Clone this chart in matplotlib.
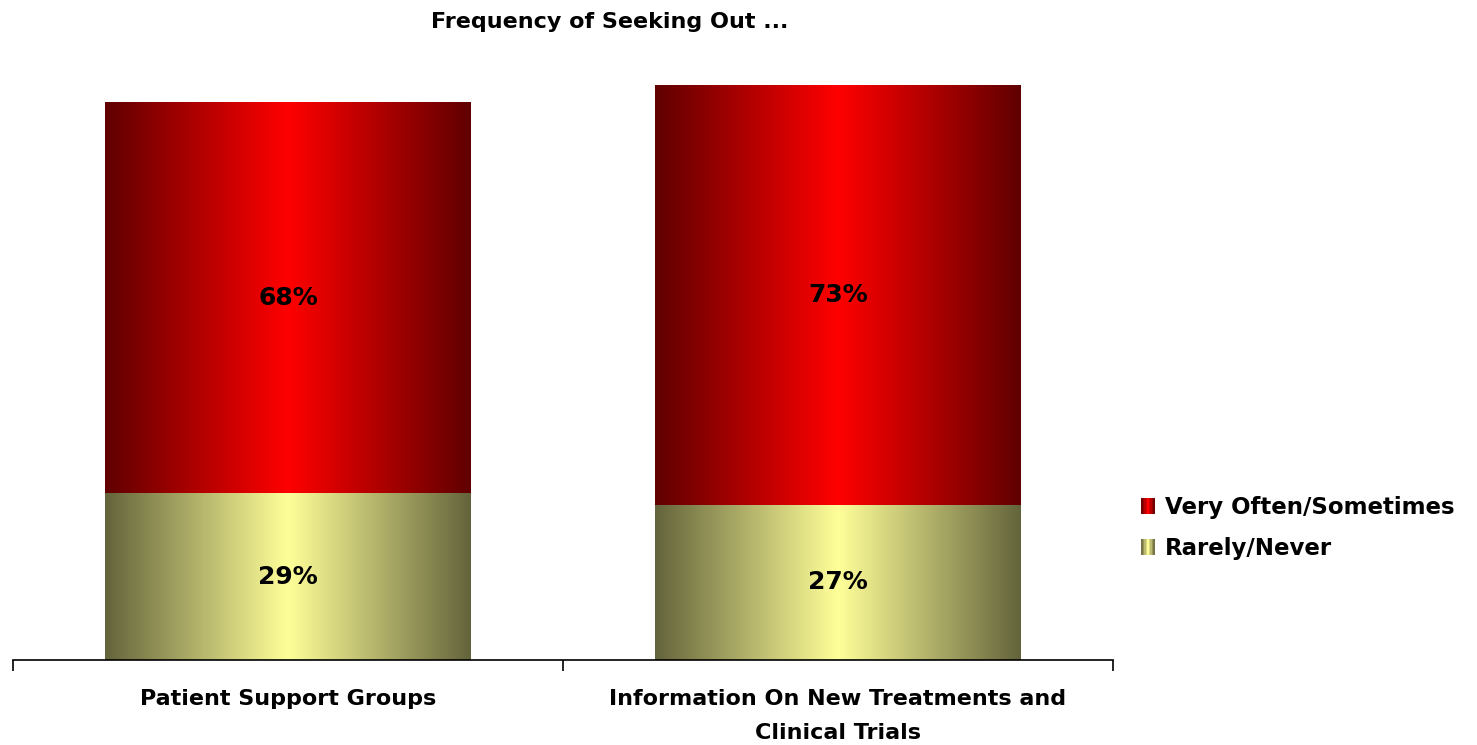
import matplotlib.pyplot as plt
import numpy as np
from matplotlib.colors import LinearSegmentedColormap
from matplotlib.patches import Rectangle
from matplotlib.legend_handler import HandlerBase

categories = ["Patient Support Groups", "Information On New Treatments and\nClinical Trials"]
rarely = [29, 27]
often = [68, 73]
series_names = ["Very Often/Sometimes", "Rarely/Never"]

red_cmap = LinearSegmentedColormap.from_list("red", ["#600000", "#ff0000", "#600000"])
yel_cmap = LinearSegmentedColormap.from_list("yel", ["#64643c", "#ffff99", "#64643c"])

plt.rcParams['font.family'] = 'DejaVu Sans'
plt.rcParams['font.weight'] = 'bold'

fig = plt.figure(figsize=(14.77, 7.45), dpi=100)
ax = fig.add_axes([13/1477, 85/745, 1100/1477, 600/745])

x = np.arange(len(categories))
w = 0.665
grad = np.linspace(0, 1, 256).reshape(1, -1)


def gradient_bars(bars, cmap):
    for b in bars:
        x0, y0 = b.get_x(), b.get_y()
        b.set_facecolor('none')
        ax.imshow(grad, cmap=cmap, aspect='auto', interpolation='bicubic',
                  extent=(x0, x0 + b.get_width(), y0, y0 + b.get_height()), zorder=2)


b1 = ax.bar(x, rarely, w, linewidth=0)
b2 = ax.bar(x, often, w, bottom=rarely, linewidth=0)
gradient_bars(b1, yel_cmap)
gradient_bars(b2, red_cmap)

for i in range(len(categories)):
    ax.text(x[i], rarely[i] / 2, f"{rarely[i]}%", ha='center', va='center', fontsize=18, fontweight='bold', zorder=3)
    ax.text(x[i], rarely[i] + often[i] / 2, f"{often[i]}%", ha='center', va='center', fontsize=18, fontweight='bold', zorder=3)

ax.set_xlim(-0.5, len(categories) - 0.5)
ax.set_ylim(0, 104.5)
for s in ['top', 'right', 'left']:
    ax.spines[s].set_visible(False)
ax.spines['bottom'].set_linewidth(1.2)
ax.set_yticks([])
ax.set_xticks(x)
ax.set_xticklabels(categories, fontsize=16, fontweight='bold', linespacing=1.85)
ax.tick_params(axis='x', which='major', length=0, pad=21)
ax.set_xticks(np.arange(-0.5, len(categories)), minor=True)
ax.tick_params(axis='x', which='minor', length=8, width=1.2, direction='out')

fig.text(0.413, 0.97, "Frequency of Seeking Out ...", ha='center', va='center', fontsize=16, fontweight='bold')


class GradHandler(HandlerBase):
    def __init__(self, cmap):
        super().__init__()
        self.cmap = cmap

    def create_artists(self, legend, orig_handle, xdescent, ydescent, width, height, fontsize, trans):
        n = 9
        arts = []
        for k in range(n):
            c = self.cmap((k + 0.5) / n)
            arts.append(Rectangle((-xdescent + k * width / n, -ydescent), width / n + 0.05, height,
                                  facecolor=c, edgecolor='none', transform=trans))
        return arts


h_red = Rectangle((0, 0), 1, 1)
h_yel = Rectangle((0, 0), 1, 1)
fig.legend([h_red, h_yel], series_names, loc='center left', bbox_to_anchor=(1132/1477, 1 - 528/745),
           frameon=False, prop={'weight': 'bold', 'size': 16.5},
           handler_map={h_red: GradHandler(red_cmap), h_yel: GradHandler(yel_cmap)},
           handlelength=0.6, handleheight=0.7, handletextpad=0.45, labelspacing=0.75, borderaxespad=0)

fig.savefig("out.png", dpi=100)
